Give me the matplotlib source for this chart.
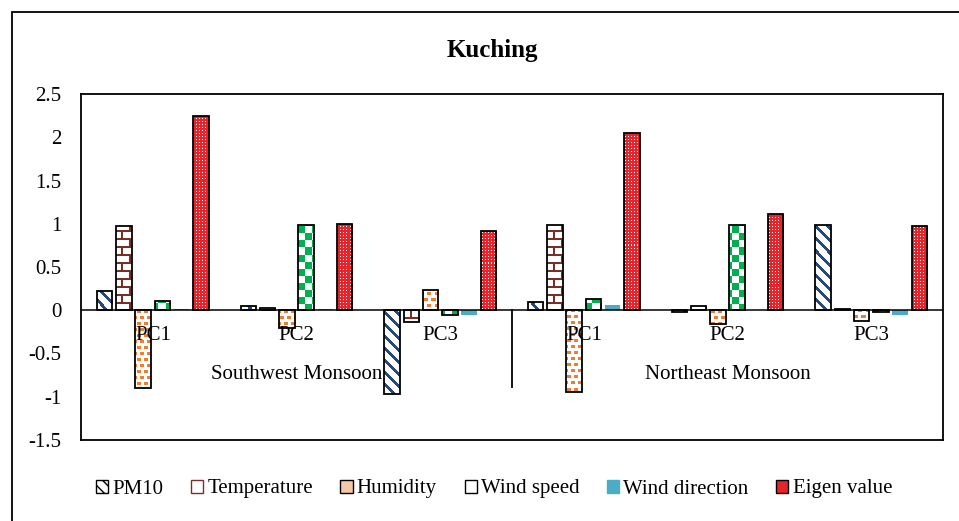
import numpy as np
import matplotlib.pyplot as plt
from matplotlib.colors import to_rgb
from matplotlib.patches import Patch, Rectangle

plt.rcParams["font.family"] = ["Liberation Serif", "DejaVu Serif"]

# principal components per monsoon season
seasons = ["Southwest Monsoon", "Northeast Monsoon"]
components = ["PC1", "PC2", "PC3"]
series_names = ["PM10", "Temperature", "Humidity", "Wind speed",
                "Wind direction", "Eigen value"]

pm10 = [0.22, 0.05, -0.97, 0.10, -0.02, 0.99]
temperature = [0.97, 0.03, -0.14, 0.98, 0.05, 0.02]
humidity = [-0.90, -0.20, 0.23, -0.95, -0.16, -0.13]
wind_speed = [0.11, 0.99, -0.05, 0.13, 0.99, -0.02]
wind_direction = [0.02, 0.02, -0.06, 0.06, 0.00, -0.05]
eigen_value = [2.25, 1.00, 0.92, 2.05, 1.11, 0.97]

series_values = [pm10, temperature, humidity, wind_speed, wind_direction, eigen_value]
fills = ["stripes", "brick", "confetti", "checker", None, "dots"]

BLUE = "#24497F"
MAROON = "#7B2D26"
ORANGE = "#ED7D31"
GREEN = "#00B050"
CYAN = "#4BACC6"
RED = "#E3262E"

W, H = 959, 521
AX_L, AX_R, AX_T, AX_B = 81, 943, 94, 440


def pattern(kind, h, w):
    """Pixel texture (RGBA) used to fill the bars of one series."""
    yy, xx = np.mgrid[0:h, 0:w]
    img = np.ones((h, w, 4))
    if kind == "stripes":
        mask = ((xx - yy) % 12) < 4
        img[mask, :3] = to_rgb(BLUE)
    elif kind == "brick":
        course = (yy // 8) % 2
        mask = ((yy % 8) < 2) | (((xx + 8 * course) % 16) < 2)
        img[mask, :3] = to_rgb(MAROON)
    elif kind == "confetti":
        row = (yy // 6) % 2
        mask = ((yy % 6) < 3) & (((xx + 4 * row) % 7) < 4)
        img[mask, :3] = to_rgb(ORANGE)
    elif kind == "checker":
        mask = ((xx // 7 + yy // 7) % 2) == 0
        img[mask, :3] = to_rgb(GREEN)
    elif kind == "dots":
        img[..., :3] = to_rgb(RED)
        mask = ((xx % 3) == 1) & ((yy % 3) == 1)
        img[mask, :3] = 1.0
    return img


fig = plt.figure(figsize=(W / 100, H / 100), dpi=100)
ax = fig.add_axes([AX_L / W, 1 - AX_B / H, (AX_R - AX_L) / W, (AX_B - AX_T) / H])

x = np.arange(len(seasons) * len(components))
step = 0.134
width = 0.108
xlim = (-0.5, len(x) - 0.5)
ylim = (-1.5, 2.5)

for k, (vals, kind) in enumerate(zip(series_values, fills)):
    pos = x + (k - 2.5) * step
    if kind is None:
        ax.bar(pos, vals, width, color=CYAN, linewidth=0, zorder=2)
        continue
    bars = ax.bar(pos, vals, width, color="white", linewidth=0, zorder=2)
    img = pattern(kind, AX_B - AX_T, AX_R - AX_L)
    for b in bars:
        im = ax.imshow(img, extent=xlim + ylim, origin="upper",
                       interpolation="nearest", aspect="auto", zorder=2.2)
        im.set_clip_path(b)
    ax.bar(pos, vals, width, fill=False, edgecolor="black", linewidth=1.3, zorder=3)

ax.set_xlim(*xlim)
ax.set_ylim(*ylim)
ax.axhline(0, color="black", linewidth=1.1, zorder=2.8)

# category labels sit under the zero line
for i, pc in enumerate(components * len(seasons)):
    ax.text(x[i], -0.29, pc, ha="center", va="center", fontsize=15)
for j, season in enumerate(seasons):
    ax.text(j * 3 + 1, -0.74, season, ha="center", va="center", fontsize=15)
ax.plot([2.5, 2.5], [0, -0.887], color="black", linewidth=1.3, zorder=3)

ax.set_xticks([])
ax.set_yticks(np.arange(-1.5, 2.51, 0.5))
ax.set_yticklabels([f"{v:g}" for v in np.arange(-1.5, 2.51, 0.5)])
ax.tick_params(axis="y", length=0, pad=14, labelsize=15)
for s in ax.spines.values():
    s.set_linewidth(1.3)

fig.text(492 / W, 1 - 50 / H, "Kuching", ha="center", va="center",
         fontsize=18, fontweight="bold")

handles = [
    Patch(facecolor="white", edgecolor="black", hatch="\\\\\\"),
    Patch(facecolor="white", edgecolor=MAROON),
    Patch(facecolor="#F6C7A6", edgecolor="black"),
    Patch(facecolor="white", edgecolor="black"),
    Patch(facecolor=CYAN, edgecolor=CYAN),
    Patch(facecolor=RED, edgecolor="black"),
]
fig.legend(handles, series_names, loc="center", bbox_to_anchor=(494 / W, 1 - 489 / H),
           ncol=6, frameon=False, fontsize=15, handlelength=0.58, handleheight=0.58,
           handletextpad=0.2, columnspacing=1.33, borderaxespad=0, borderpad=0)

# outer chart frame, clipped at the right and bottom edges
fig.patches.append(Rectangle((12 / W, -0.1), 1.1, (H - 12) / H + 0.1,
                             transform=fig.transFigure, fill=False,
                             edgecolor="black", linewidth=1.3))

plt.savefig("out.png", dpi=100)
